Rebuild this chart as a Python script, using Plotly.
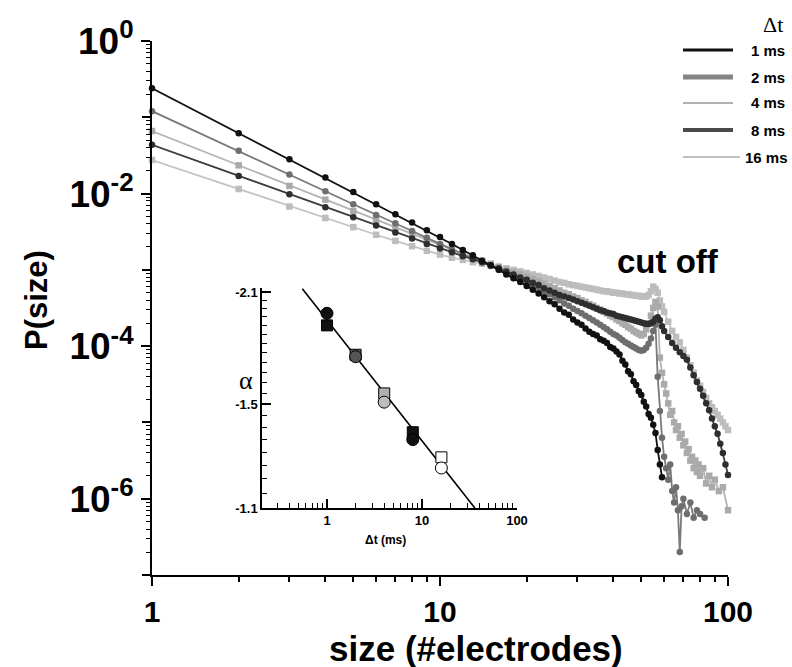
import numpy as np
import plotly.graph_objects as go

# ---------------- main panel: avalanche size distributions ----------------
dt_labels = ["1 ms", "2 ms", "4 ms", "8 ms", "16 ms"]

sizes_1ms = list(range(1, 60))
logp_1ms = [-0.62, -1.21, -1.55, -1.79, -1.98, -2.14, -2.27, -2.38, -2.48, -2.57,
            -2.66, -2.74, -2.81, -2.88, -2.94, -3.00, -3.06, -3.11, -3.16, -3.21,
            -3.26, -3.31, -3.36, -3.41, -3.45, -3.51, -3.56, -3.59, -3.65, -3.69,
            -3.72, -3.77, -3.81, -3.84, -3.86, -3.91, -3.93, -3.96, -4.01, -4.03,
            -4.07, -4.11, -4.19, -4.24, -4.33, -4.37, -4.46, -4.51, -4.59, -4.64,
            -4.73, -4.79, -4.89, -4.94, -5.03, -5.14, -5.36, -5.55, -5.72]

sizes_2ms = list(range(1, 71)) + [72, 74, 76, 78, 80, 83]
logp_2ms = [-0.92, -1.44, -1.75, -1.97, -2.14, -2.28, -2.39, -2.49, -2.58, -2.66,
            -2.73, -2.79, -2.85, -2.90, -2.95, -3.00, -3.04, -3.08, -3.12, -3.16,
            -3.20, -3.24, -3.28, -3.32, -3.36, -3.40, -3.44, -3.47, -3.51, -3.54,
            -3.57, -3.60, -3.63, -3.66, -3.69, -3.72, -3.75, -3.78, -3.81, -3.84,
            -3.86, -3.89, -3.92, -3.95, -3.97, -3.99, -4.01, -4.03, -4.05, -4.06,
            -4.05, -4.02, -3.97, -3.90, -3.80, -3.72, -4.40, -4.85, -5.20, -5.45,
            -5.60, -5.75, -5.55, -5.90, -6.05, -5.85, -6.15, -6.70, -6.10, -6.00,
            -6.20, -6.05, -6.25, -6.15, -6.20, -6.25]

sizes_4ms = list(range(1, 81)) + [82, 84, 86, 88, 90, 93, 96, 100]
logp_4ms = [-1.18, -1.63, -1.90, -2.08, -2.23, -2.35, -2.45, -2.53, -2.61, -2.68,
            -2.74, -2.79, -2.84, -2.88, -2.92, -2.96, -3.00, -3.03, -3.06, -3.09,
            -3.12, -3.15, -3.18, -3.21, -3.24, -3.27, -3.30, -3.32, -3.35, -3.37,
            -3.40, -3.42, -3.45, -3.47, -3.50, -3.52, -3.55, -3.57, -3.60, -3.62,
            -3.65, -3.67, -3.70, -3.72, -3.75, -3.77, -3.80, -3.82, -3.84, -3.86,
            -3.84, -3.78, -3.70, -3.60, -3.50, -3.42, -3.48, -4.15, -4.35, -4.50,
            -4.62, -4.75, -4.90, -4.85, -5.00, -5.10, -5.05, -5.20, -5.15, -5.30,
            -5.25, -5.40, -5.35, -5.50, -5.45, -5.60, -5.50, -5.65, -5.55, -5.70,
            -5.60, -5.80, -5.70, -5.85, -5.75, -5.90, -5.85, -6.15]

sizes_8ms = list(range(1, 61)) + list(range(62, 101, 2))
logp_8ms = [-1.36, -1.77, -2.01, -2.18, -2.31, -2.42, -2.51, -2.59, -2.66, -2.72,
            -2.77, -2.82, -2.86, -2.90, -2.94, -2.98, -3.02, -3.06, -3.10, -3.13,
            -3.17, -3.20, -3.24, -3.27, -3.30, -3.33, -3.35, -3.37, -3.39, -3.41,
            -3.43, -3.45, -3.47, -3.49, -3.51, -3.53, -3.54, -3.56, -3.57, -3.58,
            -3.60, -3.61, -3.62, -3.63, -3.64, -3.65, -3.66, -3.67, -3.68, -3.69,
            -3.70, -3.71, -3.71, -3.70, -3.68, -3.64, -3.62, -3.66, -3.74, -3.80,
            -3.88, -3.96, -4.02, -4.08, -4.13, -4.18, -4.28, -4.38, -4.47, -4.56,
            -4.65, -4.75, -4.84, -4.95, -5.05, -5.15, -5.28, -5.40, -5.55, -5.69]

sizes_16ms = list(range(1, 61)) + list(range(62, 101, 2))
logp_16ms = [-1.56, -1.94, -2.17, -2.32, -2.44, -2.54, -2.62, -2.69, -2.75, -2.80,
             -2.84, -2.87, -2.90, -2.92, -2.94, -2.96, -2.98, -3.00, -3.02, -3.04,
             -3.06, -3.08, -3.10, -3.12, -3.14, -3.16, -3.17, -3.19, -3.20, -3.21,
             -3.22, -3.23, -3.24, -3.25, -3.26, -3.27, -3.28, -3.28, -3.29, -3.30,
             -3.30, -3.31, -3.31, -3.32, -3.32, -3.33, -3.33, -3.34, -3.34, -3.35,
             -3.35, -3.35, -3.33, -3.28, -3.22, -3.25, -3.30, -3.40, -3.48, -3.55,
             -3.68, -3.80, -3.88, -3.95, -4.05, -4.15, -4.25, -4.35, -4.45, -4.52,
             -4.60, -4.68, -4.75, -4.80, -4.85, -4.90, -4.95, -5.00, -5.05, -5.10]

# ---------------- inset: exponent alpha versus bin width ----------------
inset_dt = [1, 2, 4, 8, 16]
alpha_squares = [-1.90, -1.74, -1.55, -1.38, -1.28]
alpha_circles = [-1.97, -1.73, -1.51, -1.35, -1.24]
fit_dt = [0.55, 36.0]
fit_alpha = [-2.12, -1.10]

x_ticks = [1, 10, 100]
x_ticktext = ["1", "10", "100"]
y_ticks = [1, 1e-2, 1e-4, 1e-6]
y_ticktext = ["10<sup>0</sup>", "10<sup>-2</sup>", "10<sup>-4</sup>", "10<sup>-6</sup>"]
y_odd_decades = [1e-1, 1e-3, 1e-5, 1e-7]
inset_x_ticks = [1, 10, 100]
inset_alpha_ticks = [-2.1, -1.5, -1.1]

# ---------------- styles ----------------
line_col = ["#111111", "#7a7a7a", "#b4b4b4", "#3c3c3c", "#c4c4c4"]
marker_col = ["#111111", "#6e6e6e", "#aaaaaa", "#2e2e2e", "#bdbdbd"]
marker_sym = ["circle", "circle", "square", "circle", "square"]
legend_width = [3, 5, 2, 4, 2]
legend_col = ["#111111", "#858585", "#b0b0b0", "#4a4a4a", "#c0c0c0"]

SANS = "Liberation Sans, Arial, Helvetica, sans-serif"
SERIF = "Liberation Serif, Times New Roman, serif"

series = [(sizes_1ms, logp_1ms), (sizes_2ms, logp_2ms), (sizes_4ms, logp_4ms),
          (sizes_8ms, logp_8ms), (sizes_16ms, logp_16ms)]

fig = go.Figure()

# light curves first so the dark ones sit on top
for idx in [4, 2, 1, 3, 0]:
    s, lp = series[idx]
    fig.add_trace(go.Scatter(
        x=s, y=np.power(10.0, lp), mode="lines+markers",
        line=dict(color=line_col[idx], width=1.8),
        marker=dict(symbol=marker_sym[idx], size=6.5, color=marker_col[idx],
                    line=dict(width=0)),
        cliponaxis=False, showlegend=False, name=dt_labels[idx],
        xaxis="x", yaxis="y"))

# inset traces
fig.add_trace(go.Scatter(
    x=fit_dt, y=[-a for a in fit_alpha], mode="lines",
    line=dict(color="black", width=1.6), showlegend=False,
    xaxis="x2", yaxis="y2"))

inset_fill_sq = ["#111111", "#555555", "#b0b0b0", "#111111", "#ffffff"]
inset_fill_ci = ["#111111", "#555555", "#bdbdbd", "#111111", "#ffffff"]
fig.add_trace(go.Scatter(
    x=inset_dt, y=[-a for a in alpha_squares], mode="markers",
    marker=dict(symbol="square", size=11, color=inset_fill_sq,
                line=dict(color="black", width=1)),
    showlegend=False, xaxis="x2", yaxis="y2", cliponaxis=False))
fig.add_trace(go.Scatter(
    x=inset_dt, y=[-a for a in alpha_circles], mode="markers",
    marker=dict(symbol="circle", size=12, color=inset_fill_ci,
                line=dict(color="black", width=1)),
    showlegend=False, xaxis="x2", yaxis="y2", cliponaxis=False))

# ---------------- geometry (pixels) ----------------
W, H = 792, 667
L, R, T, B = 152, 64, 41, 92
PW, PH = W - L - R, H - T - B


def px_x(p):
    return (p - L) / PW


def px_y(p):
    return (H - B - p) / PH


minor_main_y = [k * 10.0 ** e for e in range(-7, 0) for k in range(2, 10)]
minor_main_x = [k * 10.0 ** e for e in range(0, 2) for k in range(2, 10)]
minor_inset_x = [k * 10.0 ** e for e in range(-1, 2) for k in range(2, 10)]
minor_inset_y = [round(1.10 + 0.05 * i, 2) for i in range(21)]

fig.update_layout(
    width=W, height=H,
    margin=dict(l=L, r=R, t=T, b=B),
    paper_bgcolor="white", plot_bgcolor="rgba(0,0,0,0)",
    font=dict(family=SANS, color="black"),
    xaxis=dict(
        type="log", range=[0, 2], showgrid=False, zeroline=False,
        showline=True, linecolor="black", linewidth=2,
        ticks="outside", ticklen=9, tickwidth=2, tickcolor="black",
        tickvals=x_ticks, ticktext=x_ticktext,
        tickfont=dict(family=SANS, size=30, weight="bold"),
        minor=dict(ticks="outside", ticklen=5, tickwidth=1.5, tickcolor="black",
                   tickvals=minor_main_x, showgrid=False),
    ),
    yaxis=dict(
        type="log", range=[-7, 0], showgrid=False, zeroline=False,
        showline=True, linecolor="black", linewidth=2,
        ticks="outside", ticklen=9, tickwidth=2, tickcolor="black",
        tickvals=y_ticks, ticktext=y_ticktext,
        tickfont=dict(family=SANS, size=37, weight="bold"),
        minor=dict(ticks="outside", ticklen=4, tickwidth=1, tickcolor="black",
                   tickvals=minor_main_y, showgrid=False),
    ),
    # unlabeled major ticks on the odd decades
    yaxis3=dict(
        type="log", range=[-7, 0], overlaying="y", anchor="x", side="left",
        showgrid=False, zeroline=False, showline=False,
        ticks="outside", ticklen=9, tickwidth=2, tickcolor="black",
        tickvals=y_odd_decades, showticklabels=False,
    ),
    xaxis2=dict(
        type="log", range=[np.log10(0.207), 2.0], domain=[px_x(262), px_x(517)],
        anchor="y2", showgrid=False, zeroline=False,
        showline=True, linecolor="black", linewidth=1.5,
        ticks="inside", ticklen=9, tickwidth=1.5, tickcolor="black",
        tickvals=inset_x_ticks, ticktext=[str(v) for v in inset_x_ticks],
        tickfont=dict(family=SANS, size=13, weight="bold"),
        minor=dict(ticks="inside", ticklen=5, tickwidth=1.2, tickcolor="black",
                   tickvals=minor_inset_x, showgrid=False),
    ),
    yaxis2=dict(
        type="log", range=[np.log10(1.1), np.log10(2.125)],
        domain=[px_y(508), px_y(288)],
        anchor="x2", showgrid=False, zeroline=False,
        showline=True, linecolor="black", linewidth=1.5,
        ticks="inside", ticklen=9, tickwidth=1.5, tickcolor="black",
        tickvals=[-a for a in inset_alpha_ticks],
        ticktext=[f"{a:.1f}" for a in inset_alpha_ticks],
        tickfont=dict(family=SANS, size=13, weight="bold"),
        minor=dict(ticks="inside", ticklen=5, tickwidth=1.2, tickcolor="black",
                   tickvals=minor_inset_y, showgrid=False),
    ),
)

# an invisible point keeps the odd-decade tick axis active
fig.add_trace(go.Scatter(x=[1], y=[1e-3], mode="markers", opacity=0,
                         showlegend=False, hoverinfo="skip",
                         xaxis="x", yaxis="y3"))

annotations = [
    dict(text="size (#electrodes)", x=px_x(476), y=px_y(648), xref="paper", yref="paper",
         xanchor="center", yanchor="middle", showarrow=False,
         font=dict(family=SANS, size=35, weight="bold")),
    dict(text="P(size)", x=px_x(36), y=px_y(300), xref="paper", yref="paper",
         xanchor="center", yanchor="middle", textangle=-90, showarrow=False,
         font=dict(family=SANS, size=31, weight="bold")),
    dict(text="cut off", x=px_x(668), y=px_y(261), xref="paper", yref="paper",
         xanchor="center", yanchor="middle", showarrow=False,
         font=dict(family=SANS, size=33, weight="bold")),
    dict(text="α", x=px_x(246), y=px_y(380), xref="paper", yref="paper",
         xanchor="center", yanchor="middle", showarrow=False,
         font=dict(family=SERIF, size=26)),
    dict(text="Δt (ms)", x=px_x(385), y=px_y(540), xref="paper", yref="paper",
         xanchor="center", yanchor="middle", showarrow=False,
         font=dict(family=SANS, size=12, weight="bold")),
    dict(text="Δt", x=px_x(773), y=px_y(25), xref="paper", yref="paper",
         xanchor="center", yanchor="middle", showarrow=False,
         font=dict(family=SERIF, size=22)),
]

shapes = []
legend_y = [50, 77, 103, 130, 157]
for i, lab in enumerate(dt_labels):
    x1 = 740 if i == 4 else 733
    shapes.append(dict(type="line", xref="paper", yref="paper",
                       x0=px_x(683), x1=px_x(x1), y0=px_y(legend_y[i]), y1=px_y(legend_y[i]),
                       line=dict(color=legend_col[i], width=legend_width[i])))
    annotations.append(dict(text=lab, x=px_x(743 if i == 4 else 749), y=px_y(legend_y[i]),
                            xref="paper", yref="paper", xanchor="left", yanchor="middle",
                            showarrow=False,
                            font=dict(family=SANS, size=15, weight="bold")))

fig.update_layout(annotations=annotations, shapes=shapes)

fig.write_html("out.html")
